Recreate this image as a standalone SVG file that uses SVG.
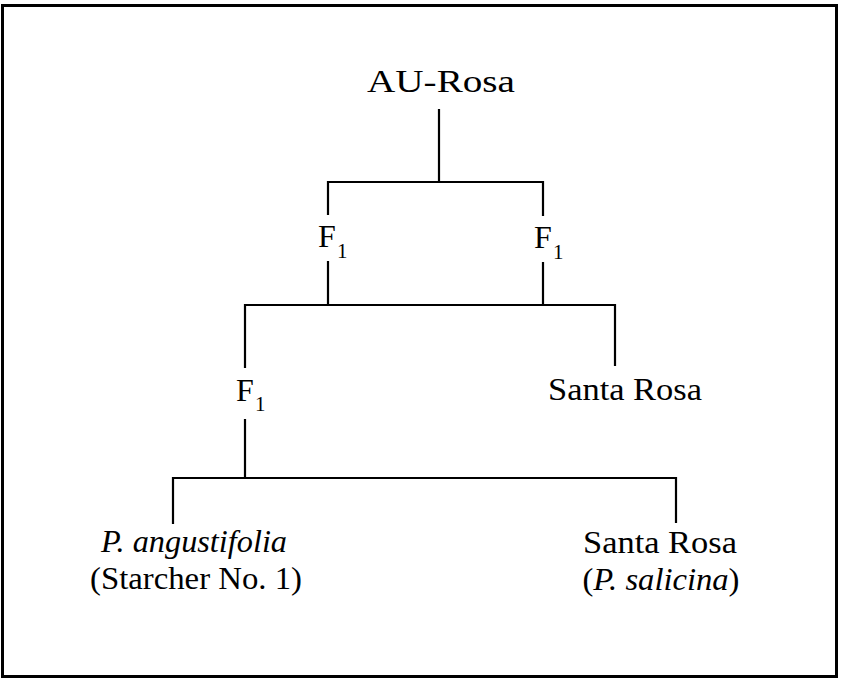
<svg xmlns="http://www.w3.org/2000/svg" width="843" height="680" viewBox="0 0 843 680">
<style>
.t{font-family:"Liberation Serif","Times New Roman",serif;font-size:32px;fill:#000}
.i{font-style:italic}
.s{font-size:21px}
.c{stroke:#000;stroke-width:2.2;fill:none;stroke-linecap:square}
</style>
<rect x="0" y="0" width="843" height="680" fill="#fff"/>
<rect x="2.5" y="5.5" width="834" height="671" fill="none" stroke="#000" stroke-width="3"/>
<g id="connectors" class="c">
<path d="M439 110V182M328 214V182H543V215"/>
<path d="M328 262V305M543 263V305M245 367V305H615V365"/>
<path d="M245 420V478M173 523V478H676V522"/>
</g>
<g id="au-rosa"><text class="t" x="441" y="92" text-anchor="middle" textLength="148" lengthAdjust="spacingAndGlyphs">AU-Rosa</text></g>
<g id="f1-left"><text class="t" x="318" y="247">F<tspan class="s" x="337" y="258">1</tspan></text></g>
<g id="f1-right"><text class="t" x="534" y="248">F<tspan class="s" x="553" y="259">1</tspan></text></g>
<g id="f1-lower"><text class="t" x="236" y="401">F<tspan class="s" x="255" y="411">1</tspan></text></g>
<g id="santa-rosa-mid"><text class="t" x="625" y="400" text-anchor="middle" textLength="154" lengthAdjust="spacingAndGlyphs">Santa Rosa</text></g>
<g id="p-angustifolia">
<text class="t i" x="194" y="552" text-anchor="middle" textLength="186" lengthAdjust="spacingAndGlyphs">P. angustifolia</text>
<text class="t" x="196" y="589" text-anchor="middle" textLength="212" lengthAdjust="spacingAndGlyphs">(Starcher No. 1)</text>
</g>
<g id="santa-rosa-salicina">
<text class="t" x="660" y="553" text-anchor="middle" textLength="154" lengthAdjust="spacingAndGlyphs">Santa Rosa</text>
<text class="t" x="661" y="590" text-anchor="middle" textLength="157" lengthAdjust="spacingAndGlyphs">(<tspan class="i">P. salicina</tspan>)</text>
</g>
</svg>
